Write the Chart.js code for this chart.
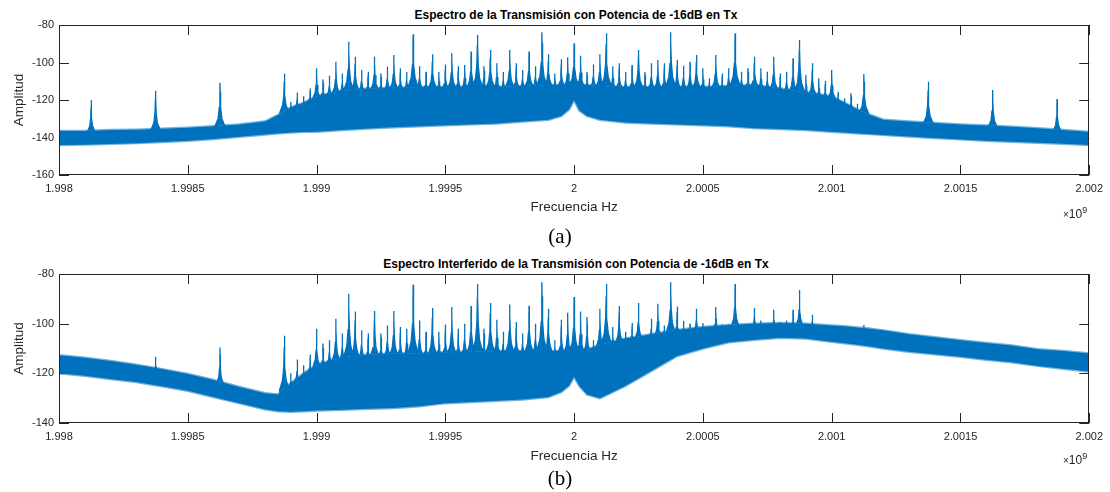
<!DOCTYPE html>
<html>
<head>
<meta charset="utf-8">
<script src="https://cdn.jsdelivr.net/npm/chart.js@4.4.1/dist/chart.umd.min.js"></script>
<style>
  body { margin: 0; background: #fff; }
  #wrap { position: relative; width: 1110px; height: 492px; overflow: hidden; }
  canvas { position: absolute; left: 0; }
  .title { position: absolute; left: 59px; width: 1034px; text-align: center;
           font: bold 12px "Liberation Sans", Arial, sans-serif; line-height: 1; color: #000; white-space: nowrap; }
  .tag { position: absolute; left: 530px; width: 60px; text-align: center;
         font: 21px "Liberation Serif", "Times New Roman", serif; line-height: 1; color: #000; }
  .expo { position: absolute; left: 1063px; font: 12px "Liberation Sans", Arial, sans-serif;
          line-height: 1; color: #262626; white-space: nowrap; }
  .expo small { font-size: 10px; }
  .expo sup { font-size: 9px; vertical-align: 5px; }
</style>
</head>
<body>
<div id="wrap">
  <div class="title" style="top:9px">Espectro de la Transmisión con Potencia de -16dB en Tx</div>
  <canvas id="chartA" width="1110" height="228" style="top:0"></canvas>
  <div class="expo" style="top:206px"><small>×</small>10<sup>9</sup></div>
  <div class="tag" style="top:226px">(a)</div>

  <div class="title" style="top:258px">Espectro Interferido de la Transmisión con Potencia de -16dB en Tx</div>
  <canvas id="chartB" width="1110" height="228" style="top:249px"></canvas>
  <div class="expo" style="top:452px"><small>×</small>10<sup>9</sup></div>
  <div class="tag" style="top:468px">(b)</div>
</div>
<script>
// Frecuencias (x 10^9 Hz) donde se leyeron los bordes de la banda de ruido
const envFreq = [1.998, 1.9981, 1.9982, 1.9983, 1.9984, 1.9985, 1.9986, 1.9987, 1.9988, 1.99885,
  1.9989, 1.99895, 1.999, 1.9991, 1.9992, 1.9993, 1.9994, 1.9995, 1.9996, 1.9997,
  1.9998, 1.9999, 1.99995, 1.99998, 2.0, 2.00002, 2.00005, 2.0001, 2.0002, 2.0003,
  2.0004, 2.0005, 2.0006, 2.0007, 2.0008, 2.0009, 2.001, 2.00105, 2.0011, 2.00115,
  2.0012, 2.0013, 2.0014, 2.0015, 2.0016, 2.0017, 2.0018, 2.0019, 2.002];

// (a) borde superior / inferior de la banda
const envTopA = [-136.5, -136.5, -136, -135.8, -135.3, -134.8, -134, -133, -131.5, -128,
  -124, -121.5, -118, -115, -114, -113.5, -113, -113, -113, -113,
  -112.5, -112, -112, -112, -112, -112, -112, -112.5, -113, -113,
  -113, -113, -112.5, -112, -114, -116, -118, -121.5, -125, -128,
  -130.5, -131.5, -132.3, -133, -133.6, -134.3, -135, -136, -137];
const envLowA = [-144, -143.8, -143.4, -143, -142.4, -141.7, -140.8, -139.6, -138.4, -137.8,
  -137.3, -137, -136.9, -136, -135.2, -134.5, -134, -133.5, -133, -132.5,
  -131.5, -130.5, -128.5, -125, -120, -125.5, -128.5, -130.5, -132, -132.5,
  -133, -133.5, -134, -135, -135.5, -136, -136.9, -137.3, -137.8, -138.2,
  -138.6, -139.5, -140.3, -141, -141.7, -142.3, -142.8, -143.3, -144];

// (b) borde superior / inferior de la banda
const envTopB = [-112.7, -113.7, -115, -116.5, -118.3, -120.3, -122.7, -125.5, -128, -128.5,
  -124, -120, -116.5, -113.5, -112.5, -112, -112, -111.5, -111.3, -111,
  -111, -111, -111, -111, -111, -111, -110.5, -108.5, -106, -104.3,
  -102.5, -101.3, -100.5, -100, -99.7, -100, -100.7, -101, -101.5, -102,
  -102.7, -104.3, -105.5, -106.7, -107.8, -108.8, -110.3, -111, -112];
const envLowB = [-120, -121, -122.3, -123.5, -125.2, -127, -129.5, -132, -134.5, -135.3,
  -135.5, -135.3, -135, -134.7, -134.3, -134, -133.3, -132, -131.5, -131,
  -130.5, -129.5, -127.5, -125, -121.3, -125, -128.5, -130, -125, -119,
  -113, -110, -107.5, -106.5, -105.7, -106, -107.3, -107.9, -108.5, -109.2,
  -110, -111.3, -112.3, -113.3, -114.5, -115.5, -117, -118.2, -119.3];

// Peine de tonos (x 10^9 Hz)
const combFreq = [1.998875, 1.9989, 1.998925, 1.99895, 1.998975, 1.999, 1.999025, 1.99905, 1.999075, 1.9991,
  1.999125, 1.99915, 1.999175, 1.9992, 1.999225, 1.99925, 1.999275, 1.9993, 1.999325, 1.99935,
  1.999375, 1.9994, 1.999425, 1.99945, 1.999475, 1.9995, 1.999525, 1.99955, 1.999575, 1.9996,
  1.999625, 1.99965, 1.999675, 1.9997, 1.999725, 1.99975, 1.999775, 1.9998, 1.999825, 1.99985,
  1.999875, 1.9999, 1.999925, 1.99995, 1.999975, 2.0, 2.000025, 2.00005, 2.000075, 2.0001,
  2.000125, 2.00015, 2.000175, 2.0002, 2.000225, 2.00025, 2.000275, 2.0003, 2.000325, 2.00035,
  2.000375, 2.0004, 2.000425, 2.00045, 2.000475, 2.0005, 2.000525, 2.00055, 2.000575, 2.0006,
  2.000625, 2.00065, 2.000675, 2.0007, 2.000725, 2.00075, 2.000775, 2.0008, 2.000825, 2.00085,
  2.000875, 2.0009, 2.000925, 2.00095, 2.000975, 2.001, 2.001025, 2.00105, 2.001075, 2.0011,
  2.001125];

const combPeakA = [-106, -121, -116, -118, -113.8, -103, -109, -107, -99.6, -105.8,
  -88.9, -96.9, -104, -104.9, -96.9, -105.8, -102.2, -96, -103.1, -105,
  -85, -102, -105, -95.6, -105, -101, -95.1, -102, -101.3, -94.2,
  -85.3, -102, -93.3, -100.4, -105, -93.3, -100.4, -104, -94.2, -102,
  -83.9, -95.6, -105.8, -98.3, -97.2, -89.8, -96.4, -105, -101, -95.6,
  -84.4, -102, -100.4, -105, -101.3, -93.3, -105, -100.4, -98.7, -100.4,
  -83.9, -98.7, -101.7, -99.6, -96, -103, -108.4, -96, -105.8, -103,
  -84.4, -104.9, -103, -96.9, -103, -104.9, -96.9, -105.8, -104.9, -97.8,
  -88, -106.7, -100.4, -108.4, -109.7, -104, -115.6, -119.1, -116.4, -122,
  -106.1];

const combPeakB = [-104.9, -120, -114.4, -116.7, -112.4, -102, -108, -106.7, -98, -104,
  -88, -95.1, -102.7, -104, -94.9, -104, -100.7, -94.9, -101.3, -102,
  -84.3, -98.7, -103.3, -93.7, -103.3, -100.3, -93.3, -102, -100, -92.9,
  -84, -102, -91.7, -98.4, -103.3, -92.3, -99.3, -104, -92.8, -100,
  -83.3, -94, -106.7, -98.4, -95.6, -89.3, -95.1, -97.3, -106.7, -94,
  -84, -101.3, -92.9, -103.3, -99.7, -91.7, -106.7, -98, -92, -100.7,
  -83.3, -93.1, -98.9, -100, -94, -99.7, -101.3, -93.3, -100.3, -100.3,
  -84, -102, -100, -93.7, -98.7, -100, -94.4, -99.3, -98.7, -94.4,
  -86.4, -100, -96.4, -101, -102, -101, -103, -103, -103, -103,
  -100.5];

// Tonos aislados fuera del peine
const sideFreq = [1.998125, 1.998375, 1.998625, 2.001375, 2.001625, 2.001875];
const sidePeakA = [-120, -115, -110.8, -110.2, -114.7, -119.5];
const sidePeakB = [null, -113.3, -109.6, null, null, null];

const xTicks = [1.998, 1.9985, 1.999, 1.9995, 2, 2.0005, 2.001, 2.0015, 2.002];

const AZUL = '#0072BD';
const AZUL_BORDE = 'rgba(0, 114, 189, 0.55)';
const GRIS = '#262626';
const FUENTE = "'Liberation Sans', Arial, sans-serif";
const TICK = 10;

// Forma del pico (fracciones de ancho / altura)
const FORMA = [[-1, 0], [-0.35, 0.2], [-0.12, 0.45], [-0.03, 0.8], [0, 1],
               [0.03, 0.8], [0.12, 0.45], [0.35, 0.2], [1, 0]];

function bordeEn(vals, f) {
    for (let i = 1; i < envFreq.length; i++) {
        if (f <= envFreq[i]) {
            const t = (f - envFreq[i - 1]) / (envFreq[i] - envFreq[i - 1]);
            return vals[i - 1] + t * (vals[i] - vals[i - 1]);
        }
    }
    return vals[vals.length - 1];
}

function puntosPicos(freqs, peaks, envTop) {
    const lista = freqs.map((f, i) => ({ f: f, p: peaks[i] }))
        .filter(d => d.p !== null)
        .sort((a, b) => a.f - b.f);
    const pts = [];
    lista.forEach(d => {
        const base = bordeEn(envTop, d.f) - 1;
        const h = d.p - base;
        if (h <= 0) return;
        const w = Math.min(0.0000009 * h, 0.000022);
        FORMA.forEach(([dx, dy]) => pts.push({ x: d.f + dx * w, y: base + dy * h }));
        pts.push({ x: d.f + w, y: null });
    });
    return pts;
}

// Caja y marcas hacia dentro, estilo MATLAB
const ejesMatlab = {
    id: 'ejesMatlab',
    beforeDatasetsDraw(chart) {
        const { ctx, chartArea: a, scales: { x, y } } = chart;
        ctx.save();
        ctx.strokeStyle = GRIS;
        ctx.lineWidth = 1;
        ctx.beginPath();
        x.ticks.forEach(t => {
            const px = Math.round(x.getPixelForValue(t.value)) + 0.5;
            ctx.moveTo(px, a.bottom); ctx.lineTo(px, a.bottom - TICK);
            ctx.moveTo(px, a.top); ctx.lineTo(px, a.top + TICK);
        });
        y.ticks.forEach(t => {
            const py = Math.round(y.getPixelForValue(t.value)) + 0.5;
            ctx.moveTo(a.left, py); ctx.lineTo(a.left + TICK, py);
            ctx.moveTo(a.right, py); ctx.lineTo(a.right - TICK, py);
        });
        ctx.stroke();
        ctx.restore();
    },
    afterDatasetsDraw(chart) {
        const { ctx, chartArea: a } = chart;
        ctx.save();
        ctx.strokeStyle = GRIS;
        ctx.lineWidth = 1;
        ctx.strokeRect(Math.round(a.left) + 0.5, Math.round(a.top) + 0.5,
                       Math.round(a.width) - 1, Math.round(a.height) - 1);
        ctx.restore();
    }
};

function crearGrafico(id, envTop, envLow, picos, yMin, alto) {
    const ctx = document.getElementById(id).getContext('2d');
    return new Chart(ctx, {
        type: 'line',
        data: {
            datasets: [
                {
                    data: envFreq.map((f, i) => ({ x: f, y: envLow[i] })),
                    borderColor: AZUL_BORDE, borderWidth: 2.5, fill: false
                },
                {
                    data: envFreq.map((f, i) => ({ x: f, y: envTop[i] })),
                    borderColor: AZUL_BORDE, borderWidth: 2.5, backgroundColor: AZUL, fill: '-1'
                },
                {
                    data: picos,
                    borderColor: AZUL, borderWidth: 1.3, backgroundColor: AZUL,
                    fill: 1, spanGaps: false
                }
            ]
        },
        options: {
            responsive: false,
            animation: false,
            devicePixelRatio: 1,
            layout: { padding: { top: 25, right: 17, left: 0, bottom: 0 } },
            elements: { point: { radius: 0 }, line: { tension: 0 } },
            plugins: { legend: { display: false }, tooltip: { enabled: false } },
            scales: {
                x: {
                    type: 'linear',
                    min: 1.998, max: 2.002,
                    afterBuildTicks: s => { s.ticks = xTicks.map(v => ({ value: v })); },
                    afterFit: s => { s.height = 228 - 25 - alto; },
                    grid: { display: false, drawTicks: false },
                    border: { display: false },
                    ticks: {
                        padding: 7, maxRotation: 0, autoSkip: false, color: GRIS,
                        font: { family: FUENTE, size: 11 },
                        callback: v => String(parseFloat(v.toFixed(4)))
                    },
                    title: {
                        display: true, text: 'Frecuencia Hz', color: GRIS,
                        font: { family: FUENTE, size: 13.5 }, padding: { bottom: 13 }
                    }
                },
                y: {
                    min: yMin, max: -80,
                    afterFit: s => { s.width = 59; },
                    grid: { display: false, drawTicks: false },
                    border: { display: false },
                    ticks: {
                        stepSize: 20, padding: 5, color: GRIS,
                        font: { family: FUENTE, size: 11 }
                    },
                    title: {
                        display: true, text: 'Amplitud', color: GRIS,
                        font: { family: FUENTE, size: 13.5 }, padding: { top: 11 }
                    }
                }
            }
        },
        plugins: [ejesMatlab]
    });
}

const picosA = puntosPicos(sideFreq.concat(combFreq), sidePeakA.concat(combPeakA), envTopA);
const picosB = puntosPicos(sideFreq.concat(combFreq), sidePeakB.concat(combPeakB), envTopB);

crearGrafico('chartA', envTopA, envLowA, picosA, -160, 150);
crearGrafico('chartB', envTopB, envLowB, picosB, -140, 149);
</script>
</body>
</html>
